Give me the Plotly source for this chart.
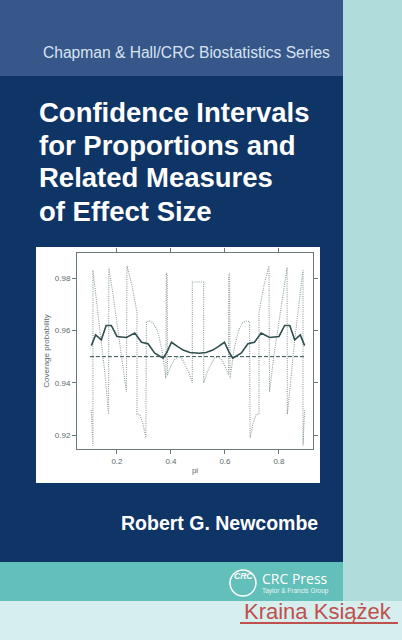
import plotly.graph_objects as go

W, H = 402, 640

# dotted coverage curve (left half, mirrored about pi=0.5)
dot_x = [0.105, 0.111, 0.111, 0.125, 0.140, 0.155, 0.169, 0.170, 0.185, 0.200, 0.218, 0.235, 0.237,
         0.256, 0.274, 0.274, 0.284, 0.296, 0.307, 0.309, 0.322, 0.334, 0.350, 0.366, 0.381, 0.383,
         0.386, 0.387, 0.398, 0.410, 0.425, 0.439, 0.452, 0.466, 0.479, 0.479, 0.495]
dot_y = [0.9296, 0.9160, 0.9830, 0.9710, 0.9580, 0.9440, 0.9280, 0.9840, 0.9740, 0.9630, 0.9510, 0.9366, 0.9847,
         0.9770, 0.9670, 0.9280, 0.9280, 0.9245, 0.9190, 0.9634, 0.9636, 0.9630, 0.9600, 0.9530, 0.9417, 0.9820,
         0.9810, 0.9430, 0.9460, 0.9485, 0.9500, 0.9495, 0.9470, 0.9440, 0.9400, 0.9785, 0.9785]

# mean coverage (solid line), left half
mean_x = [0.105, 0.121, 0.142, 0.160, 0.179, 0.200, 0.235, 0.266, 0.291, 0.315, 0.340, 0.371,
          0.386, 0.402, 0.425, 0.445, 0.470, 0.495]
mean_y = [0.9542, 0.9583, 0.9564, 0.9619, 0.9619, 0.9577, 0.9573, 0.9590, 0.9555, 0.9549, 0.9513, 0.9494,
          0.9519, 0.9555, 0.9538, 0.9525, 0.9516, 0.9513]

x_ticks = [0.2, 0.4, 0.6, 0.8]
y_ticks = [0.92, 0.94, 0.96, 0.98]
nominal = 0.95

title_lines = ["Confidence Intervals", "for Proportions and", "Related Measures", "of Effect Size"]


def mirror(xs, ys):
    return xs + [round(1 - x, 3) for x in reversed(xs)], ys + list(reversed(ys))


dx, dy = mirror(dot_x, dot_y)
mx, my = mirror(mean_x, mean_y)

def px(x):
    return x / W

def py(y):
    return 1 - y / H

fig = go.Figure()
fig.add_trace(go.Scatter(x=dx, y=dy, mode="lines",
                         line=dict(color="#8e9c9c", width=1.1, dash="1px,1.2px")))
fig.add_trace(go.Scatter(x=mx, y=my, mode="lines",
                         line=dict(color="#2f4f4f", width=1.6)))
fig.add_trace(go.Scatter(x=[0.1, 0.9], y=[nominal, nominal], mode="lines",
                         line=dict(color="#2f4f4f", width=1, dash="4px,2px")))

def rect(x0, y0, x1, y1, color, layer="below"):
    fig.add_shape(type="rect", xref="paper", yref="paper", x0=px(x0), x1=px(x1),
                  y0=py(y1), y1=py(y0), fillcolor=color, line_width=0, layer=layer)

rect(0, 0, W, H, "#0f3466")
rect(343, 0, W, H, "#b0dcdb")
rect(0, 0, 343, 76, "#37578a")
rect(0, 562, 343, 601, "#62bfb9")
rect(0, 601, W, H, "#d6eeed")
rect(36, 247, 320, 483, "#ffffff")

fig.add_annotation(text="Chapman &amp; Hall/CRC Biostatistics Series", xref="paper", yref="paper",
                   x=px(41), y=py(52), xanchor="left", yanchor="middle", showarrow=False,
                   font=dict(family="Liberation Sans", size=15.6, color="#d8e4f2"))
for i, line in enumerate(title_lines):
    fig.add_annotation(text="<b>" + line + "</b>", xref="paper", yref="paper",
                       x=px(37), y=py(112 + 33 * i), xanchor="left", yanchor="middle", showarrow=False,
                       font=dict(family="Liberation Sans", size=27.5, color="#ffffff"))
fig.add_annotation(text="<b>Robert G. Newcombe</b>", xref="paper", yref="paper",
                   x=px(320), y=py(523), xanchor="right", yanchor="middle", showarrow=False,
                   font=dict(family="Liberation Sans", size=19.5, color="#ffffff"))

# CRC Press logo
fig.add_shape(type="circle", xref="paper", yref="paper", x0=px(230), x1=px(256),
              y0=py(596), y1=py(570), line=dict(color="#ffffff", width=1.5), fillcolor="rgba(0,0,0,0)")
fig.add_annotation(text="<i><b>CRC</b></i>", xref="paper", yref="paper", x=px(243), y=py(583),
                   showarrow=False, font=dict(family="Liberation Sans", size=8.5, color="#ffffff"))
fig.add_annotation(text="CRC Press", xref="paper", yref="paper", x=px(260), y=py(578),
                   xanchor="left", yanchor="middle", showarrow=False,
                   font=dict(family="Open Sans", size=14, color="#ffffff"))
fig.add_annotation(text="Taylor &amp; Francis Group", xref="paper", yref="paper", x=px(260), y=py(591),
                   xanchor="left", yanchor="middle", showarrow=False,
                   font=dict(family="Liberation Sans", size=6.5, color="#e8f6f6"))

# watermark
fig.add_annotation(text="Kraina Książek", xref="paper", yref="paper", x=px(318), y=py(611),
                   xanchor="center", yanchor="middle", showarrow=False,
                   font=dict(family="Liberation Sans", size=22, color="#c0504d"))
fig.add_shape(type="line", xref="paper", yref="paper", x0=px(240), x1=px(398), y0=py(623), y1=py(623),
              line=dict(color="#c0504d", width=2))

axis_font = dict(family="Liberation Sans", size=8, color="#5a6a6a")
fig.update_layout(
    width=W, height=H, margin=dict(l=0, r=0, t=0, b=0),
    paper_bgcolor="#0f3466", plot_bgcolor="#ffffff", showlegend=False,
    xaxis=dict(domain=[px(77), px(313)], range=[0.052, 0.926], tickvals=x_ticks,
               ticks="outside", ticklen=4, tickcolor="#6a7a7a", mirror="ticks",
               showline=True, linecolor="#6a7a7a", linewidth=1, showgrid=False, zeroline=False,
               tickfont=axis_font, title=dict(text="pi", font=axis_font, standoff=2)),
    yaxis=dict(domain=[py(449), py(253)], range=[0.9147, 0.9896], tickvals=y_ticks,
               ticks="outside", ticklen=4, tickcolor="#6a7a7a", mirror="ticks",
               showline=True, linecolor="#6a7a7a", linewidth=1, showgrid=False, zeroline=False,
               tickfont=axis_font, title=dict(text="Coverage probability", font=axis_font, standoff=4)),
)

fig.write_html("out.html", config={"displayModeBar": False},
               post_script="document.body.style.margin='0';")
